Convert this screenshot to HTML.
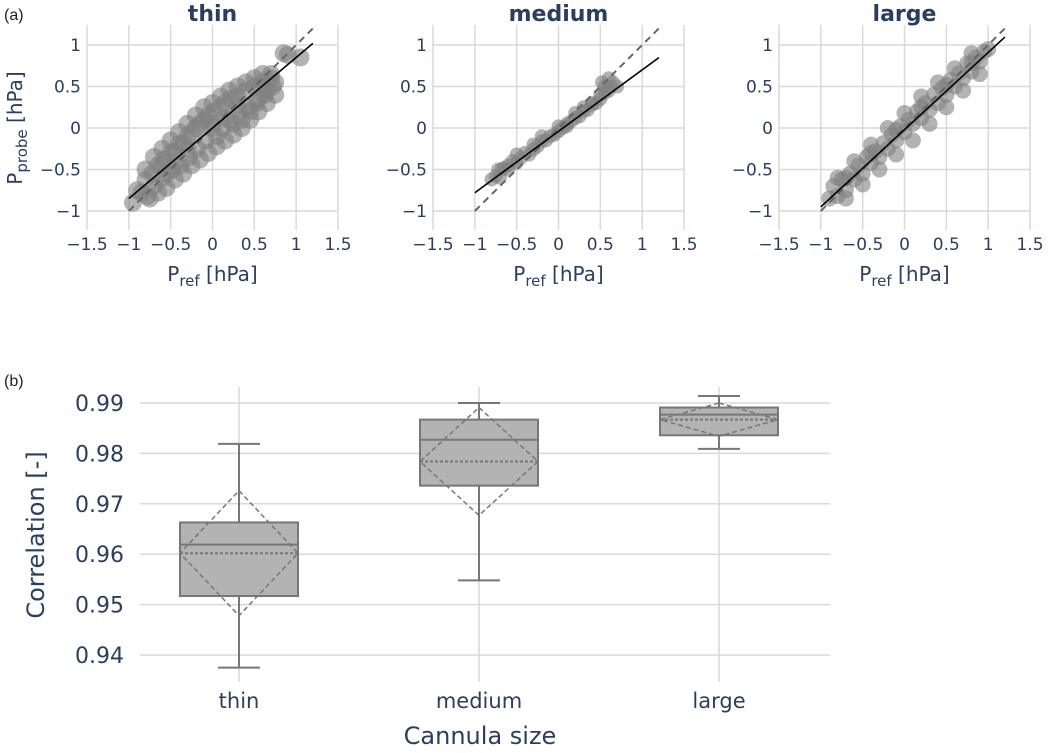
<!DOCTYPE html>
<html><head><meta charset="utf-8"><style>
body{margin:0;background:#fff;}
svg text{font-family:"DejaVu Sans","Liberation Sans",sans-serif;fill:#2a3f5f;}
</style></head><body>
<svg id="fig" width="1052" height="748" viewBox="0 0 1052 748" xmlns="http://www.w3.org/2000/svg">
<text x="4" y="20" font-size="16" style="fill:#222;font-family:'Liberation Sans',sans-serif">(a)</text>
<text x="4" y="386" font-size="16" style="fill:#222;font-family:'Liberation Sans',sans-serif">(b)</text>
<g id="scatters"></g>
<g id="boxplot"></g>
</svg>
<script>
const NS="http://www.w3.org/2000/svg";
function mk(tag,attrs,parent){const e=document.createElementNS(NS,tag);for(const k in attrs)e.setAttribute(k,attrs[k]);parent.appendChild(e);return e;}

// ---- scatter data ----
const panelTitles=["thin","medium","large"];
const xTicks=[-1.5,-1,-0.5,0,0.5,1,1.5];
const xTickLabels=["\u22121.5","\u22121","\u22120.5","0","0.5","1","1.5"];
const yTicks=[-1,-0.5,0,0.5,1];
const yTickLabels=["\u22121","\u22120.5","0","0.5","1"];
const thinX=[-0.95,-0.9,-0.85,-0.8,-0.78,-0.72,-0.7,-0.65,-0.6,-0.58,-0.55,-0.5,-0.48,-0.45,-0.4,-0.38,-0.35,-0.3,-0.28,-0.25,-0.2,-0.18,-0.15,-0.1,-0.08,-0.05,0,0.02,0.05,0.1,0.12,0.15,0.2,0.22,0.25,0.3,0.32,0.35,0.4,0.42,0.45,0.5,0.52,0.55,0.6,0.62,0.65,0.7,0.72,0.75,0.85,0.9,1.05,-0.6,-0.3,0,0.3,0.6,-0.45,0.15,
 -0.8,-0.7,-0.6,-0.5,-0.4,-0.3,-0.2,-0.1,0,0.1,0.2,0.3,0.4,0.5,0.6,0.7,
 -0.75,-0.65,-0.55,-0.45,-0.35,-0.25,-0.15,-0.05,0.05,0.15,0.25,0.35,0.45,0.55,0.65,0.75];
const thinY=[-0.9,-0.75,-0.78,-0.62,-0.82,-0.55,-0.7,-0.45,-0.6,-0.38,-0.55,-0.3,-0.5,-0.28,-0.2,-0.45,-0.18,-0.1,-0.35,-0.05,0.0,-0.25,0.05,0.1,-0.15,0.15,0.0,0.2,-0.1,0.25,0.0,0.3,0.1,0.35,0.05,0.38,0.2,0.1,0.45,0.25,0.2,0.5,0.3,0.35,0.55,0.4,0.45,0.6,0.5,0.55,0.9,0.88,0.85,-0.45,-0.25,0.05,0.28,0.5,-0.4,0.12,
 -0.5,-0.35,-0.25,-0.15,-0.05,0.05,0.15,0.25,0.3,0.38,0.45,0.5,0.55,0.6,0.65,0.65,
 -0.85,-0.78,-0.72,-0.62,-0.55,-0.45,-0.38,-0.3,-0.22,-0.15,-0.08,0.0,0.1,0.2,0.3,0.4];
const medX=[-0.8,-0.75,-0.7,-0.68,-0.65,-0.6,-0.55,-0.5,-0.45,-0.4,-0.35,-0.3,-0.25,-0.2,-0.15,-0.1,-0.05,0,0.05,0.1,0.15,0.2,0.25,0.3,0.35,0.4,0.45,0.5,0.52,0.55,0.6,0.65,0.7,-0.6,-0.3,0,0.2,0.4,0.5,0.6,-0.72,-0.5,-0.2,0.1,0.3,0.55,0.62];
const medY=[-0.62,-0.58,-0.6,-0.5,-0.48,-0.45,-0.4,-0.42,-0.36,-0.3,-0.32,-0.26,-0.22,-0.16,-0.15,-0.1,-0.08,-0.04,0.0,0.05,0.08,0.12,0.14,0.2,0.22,0.28,0.3,0.4,0.55,0.5,0.45,0.55,0.5,-0.5,-0.2,0.02,0.18,0.3,0.35,0.6,-0.5,-0.32,-0.1,0.02,0.25,0.42,0.5];
const largeX=[-0.9,-0.85,-0.8,-0.75,-0.7,-0.65,-0.6,-0.55,-0.5,-0.45,-0.4,-0.35,-0.3,-0.25,-0.2,-0.15,-0.1,-0.05,0,0.05,0.1,0.15,0.2,0.25,0.3,0.35,0.4,0.45,0.5,0.55,0.6,0.65,0.7,0.75,0.8,0.85,0.9,0.95,1.0,-0.7,-0.4,-0.1,0.2,0.5,0.8,
 -0.8,-0.6,-0.4,-0.2,0,0.2,0.4,0.6,0.8,-0.7,-0.5,-0.3,-0.1,0.1,0.3,0.5,0.7,0.9];
const largeY=[-0.85,-0.7,-0.82,-0.62,-0.75,-0.55,-0.62,-0.45,-0.55,-0.35,-0.42,-0.28,-0.35,-0.18,-0.25,-0.08,-0.15,0.02,-0.05,0.1,0.05,0.2,0.12,0.3,0.22,0.4,0.3,0.48,0.4,0.58,0.5,0.66,0.6,0.78,0.68,0.85,0.8,0.92,0.95,-0.6,-0.3,-0.02,0.25,0.52,0.78,
 -0.6,-0.4,-0.2,0.0,0.18,0.38,0.55,0.72,0.9,-0.85,-0.68,-0.5,-0.32,-0.15,0.05,0.25,0.45,0.65];
const fitSlope=[0.85,0.74,0.93];
const fitIntercept=[0.0,-0.04,-0.02];

const panelsX=[thinX,medX,largeX], panelsY=[thinY,medY,largeY];
const pointR=[9,7,8];
const sc=document.getElementById('scatters');
const plotLefts=[87,433,779], pw=251, ptop=25, pbot=230;
for(let p=0;p<3;p++){
  const L=plotLefts[p];
  const xs=v=>L+(v+1.5)/3*pw;
  const ys=v=>128-v*83;
  const g=mk('g',{},sc);
  
  
  xTicks.forEach((t,i)=>{
    const l=mk('line',{x1:xs(t),x2:xs(t),y1:ptop,y2:pbot,stroke:'#d9d9d9','stroke-width':1.5},g);
    
    const tx=mk('text',{x:xs(t),y:250,'font-size':17,'text-anchor':'middle'},g);tx.textContent=xTickLabels[i];
    
  });
  yTicks.forEach((t,i)=>{
    const l=mk('line',{x1:L,x2:L+pw,y1:ys(t),y2:ys(t),stroke:'#d9d9d9','stroke-width':1.5},g);
    
    const tx=mk('text',{x:L-6,y:ys(t)+6,'font-size':17,'text-anchor':'end'},g);tx.textContent=yTickLabels[i];
    
  });
  const X=panelsX[p],Y=panelsY[p],n=Math.min(X.length,Y.length);
  for(let i=0;i<n;i++){
    const c=mk('circle',{cx:xs(X[i]),cy:ys(Y[i]),r:pointR[p],fill:'#808080','fill-opacity':0.6},g);
    
  }
  const d=mk('line',{x1:xs(-1),y1:ys(-1),x2:xs(1.2),y2:ys(1.2),stroke:'#666','stroke-width':2,'stroke-dasharray':'7,5'},g);
  
  const f=mk('line',{x1:xs(-1),y1:ys(fitSlope[p]*-1+fitIntercept[p]),x2:xs(1.2),y2:ys(fitSlope[p]*1.2+fitIntercept[p]),stroke:'#000','stroke-width':1.6},g);
  
  const t=mk('text',{x:L+pw/2,y:21,'font-size':22,'font-weight':'bold','text-anchor':'middle'},g);t.textContent=panelTitles[p];
  
  const xt=mk('text',{x:L+pw/2,y:281,'font-size':20,'text-anchor':'middle'},g);
  xt.innerHTML='P<tspan font-size="15" dy="5">ref</tspan><tspan dy="-5"> [hPa]</tspan>';
  
  if(p===0){
    const yt=mk('text',{x:0,y:0,'font-size':20,'text-anchor':'middle',transform:'translate(22,128) rotate(-90)'},g);
    yt.innerHTML='P<tspan font-size="15" dy="5">probe</tspan><tspan dy="-5"> [hPa]</tspan>';
    
  }
}

// ---- box plot data ----
const categories=["thin","medium","large"];
const boxQ1=[0.9517,0.9736,0.9836];
const boxQ3=[0.9663,0.9867,0.9891];
const boxMedian=[0.9619,0.9827,0.9877];
const boxMean=[0.9602,0.9784,0.9867];
const boxSd=[0.0124,0.0107,0.0033];
const boxLow=[0.9375,0.9548,0.9809];
const boxHigh=[0.9819,0.9900,0.9914];
const bTicks=[0.94,0.95,0.96,0.97,0.98,0.99];
const bTickLabels=["0.94","0.95","0.96","0.97","0.98","0.99"];

const bp=document.getElementById('boxplot');
const bx0=140,bx1=830,by0=387,by1=682;
const by=v=>403+(0.99-v)*5040;
const bxc=i=>239+i*240;
bTicks.forEach((t,i)=>{
  const l=mk('line',{x1:bx0,x2:bx1,y1:by(t),y2:by(t),stroke:'#d9d9d9','stroke-width':1.5},bp);
  
  const tx=mk('text',{x:124,y:by(t)+8,'font-size':22,'text-anchor':'end'},bp);tx.textContent=bTickLabels[i];
  
});
categories.forEach((c,i)=>{
  const x=bxc(i),hw=59;
  const l=mk('line',{x1:x,x2:x,y1:by0,y2:by1,stroke:'#d9d9d9','stroke-width':1.5},bp);
  
  const g=mk('g',{},bp);
  
  const w=mk('line',{x1:x,x2:x,y1:by(boxHigh[i]),y2:by(boxLow[i]),stroke:'#777','stroke-width':2},g);
  
  [boxHigh[i],boxLow[i]].forEach(v=>{
    const cp=mk('line',{x1:x-21,x2:x+21,y1:by(v),y2:by(v),stroke:'#777','stroke-width':2},g);
    
  });
  const r=mk('rect',{x:x-hw,y:by(boxQ3[i]),width:hw*2,height:by(boxQ1[i])-by(boxQ3[i]),fill:'#b3b3b3',stroke:'#777','stroke-width':2},g);
  
  const m=mk('line',{x1:x-hw,x2:x+hw,y1:by(boxMedian[i]),y2:by(boxMedian[i]),stroke:'#777','stroke-width':2},g);
  
  const mn=mk('line',{x1:x-hw,x2:x+hw,y1:by(boxMean[i]),y2:by(boxMean[i]),stroke:'#777','stroke-width':2,'stroke-dasharray':'3,2'},g);
  
  const dm=mk('polygon',{points:`${x},${by(boxMean[i]+boxSd[i])} ${x+hw},${by(boxMean[i])} ${x},${by(boxMean[i]-boxSd[i])} ${x-hw},${by(boxMean[i])}`,fill:'none',stroke:'#777','stroke-width':1.5,'stroke-dasharray':'5,3'},g);
  
  const t=mk('text',{x:x,y:708,'font-size':21,'text-anchor':'middle'},bp);t.textContent=c;
  
});
const xt=mk('text',{x:480,y:744,'font-size':24,'text-anchor':'middle'},bp);xt.textContent='Cannula size';

const yt=mk('text',{x:0,y:0,'font-size':24,'text-anchor':'middle',transform:'translate(44,535) rotate(-90)'},bp);yt.textContent='Correlation [-]';

</script>
</body></html>
